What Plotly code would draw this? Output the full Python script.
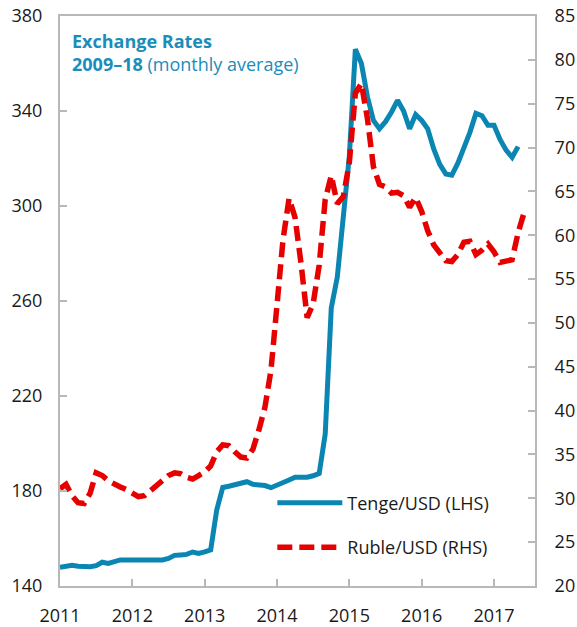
import plotly.graph_objects as go

# Monthly observations (index 0 = first month shown at the "2011" tick)
tenge_usd = [147.9, 148.5, 148.7, 148.3, 148.1, 148.1, 148.6, 150.0, 149.5, 150.3,
             151.0, 151.0, 151.0, 151.0, 151.0, 151.0, 151.0, 151.0, 151.6, 152.9,
             153.1, 153.3, 154.3, 153.7, 154.4, 155.2, 172.0, 181.5, 182.0, 182.5,
             183.2, 183.9, 182.8, 182.5, 182.3, 181.4, 182.3, 183.3, 184.6, 185.8,
             185.8, 185.8, 186.4, 187.4, 204.0, 257.0, 270.0, 296.0, 321.0, 366.0,
             360.0, 346.0, 336.0, 332.5, 335.5, 339.6, 344.5, 340.0, 332.5, 338.5,
             336.0, 332.5, 324.0, 317.5, 313.5, 313.0, 318.0, 324.5, 331.0, 339.0,
             338.0, 334.0, 334.0, 328.0, 323.5, 320.5, 325.0]

ruble_usd = [31.1, 31.6, 30.3, 29.5, 29.4, 30.6, 32.9, 32.6, 32.0, 31.6,
             31.3, 31.0, 30.6, 30.2, 30.3, 30.9, 31.4, 31.9, 32.6, 32.9,
             32.8, 32.4, 32.2, 32.6, 33.0, 33.7, 35.3, 36.1, 36.0, 35.3,
             34.7, 34.6, 35.6, 37.8, 40.4, 44.6, 53.0, 59.5, 64.2, 62.0,
             56.7, 50.6, 52.2, 56.6, 64.1, 66.8, 63.6, 64.4, 68.3, 76.2,
             77.3, 73.3, 67.8, 65.8, 65.5, 64.8, 64.9, 64.5, 63.2, 64.3,
             62.7, 60.5, 58.9, 58.0, 57.1, 57.0, 57.8, 59.2, 59.3, 57.8,
             58.3, 59.0, 58.1, 56.9, 57.0, 57.2, 60.3, 62.6]

year_labels = ["2011", "2012", "2013", "2014", "2015", "2016", "2017"]
year_ticks = [12 * k for k in range(len(year_labels))]
left_ticks = [140, 180, 220, 260, 300, 340, 380]
right_ticks = [20, 25, 30, 35, 40, 45, 50, 55, 60, 65, 70, 75, 80, 85]

BLUE = "#0b86b3"
RED = "#e60000"
TITLE = "#1a8dba"
AXIS = "#b8b8b8"
FONT = "Open Sans"

fig = go.Figure()
fig.add_trace(go.Scatter(
    x=list(range(len(tenge_usd))), y=tenge_usd, mode="lines",
    name="Tenge/USD (LHS)", line=dict(color=BLUE, width=5),
    legendgroup="a", yaxis="y"))
fig.add_trace(go.Scatter(
    x=list(range(len(ruble_usd))), y=ruble_usd, mode="lines",
    name="Ruble/USD (RHS)", line=dict(color=RED, width=5.5, dash="15px,7px"),
    legendgroup="b", yaxis="y2"))

fig.update_layout(
    width=577, height=627,
    margin=dict(l=60, r=42, t=16, b=41, autoexpand=False),
    paper_bgcolor="white", plot_bgcolor="white",
    font=dict(family=FONT, size=18, color="#1a1a1a"),
    showlegend=True,
    legend=dict(x=0.447, y=0.178, xanchor="left", yanchor="top",
                bgcolor="rgba(0,0,0,0)", itemwidth=65,
                tracegroupgap=18, font=dict(size=18, color="#1a1a1a"),
                itemclick=False),
    xaxis=dict(range=[0, 78.8], tickvals=year_ticks, ticktext=year_labels,
               showgrid=False, zeroline=False, showline=True, linecolor=AXIS,
               linewidth=2, mirror=True, ticks="inside", ticklen=7,
               tickwidth=2, tickcolor=AXIS, ticklabelstandoff=12,
               automargin=False),
    yaxis=dict(range=[140, 380], tickvals=left_ticks, showgrid=False,
               zeroline=False, showline=True, linecolor=AXIS, linewidth=2,
               ticks="inside", ticklen=7, tickwidth=2, tickcolor=AXIS,
               ticklabelstandoff=12, automargin=False),
    yaxis2=dict(range=[20, 85], tickvals=right_ticks, overlaying="y",
                side="right", showgrid=False, zeroline=False, showline=True,
                linecolor=AXIS, linewidth=2, ticks="inside", ticklen=7,
                tickwidth=2, tickcolor=AXIS, ticklabelstandoff=14,
                automargin=False),
    annotations=[dict(
        xref="paper", yref="paper", x=0.02, y=0.981,
        xanchor="left", yanchor="top", align="left", showarrow=False,
        text="<b>Exchange Rates</b><br><b>2009–18</b> (monthly average)",
        font=dict(family=FONT, size=18, color=TITLE))],
)

fig.write_html(
    "out.html",
    config={"displayModeBar": False},
    post_script="document.body.style.margin='0px';document.body.style.overflow='hidden';",
)
